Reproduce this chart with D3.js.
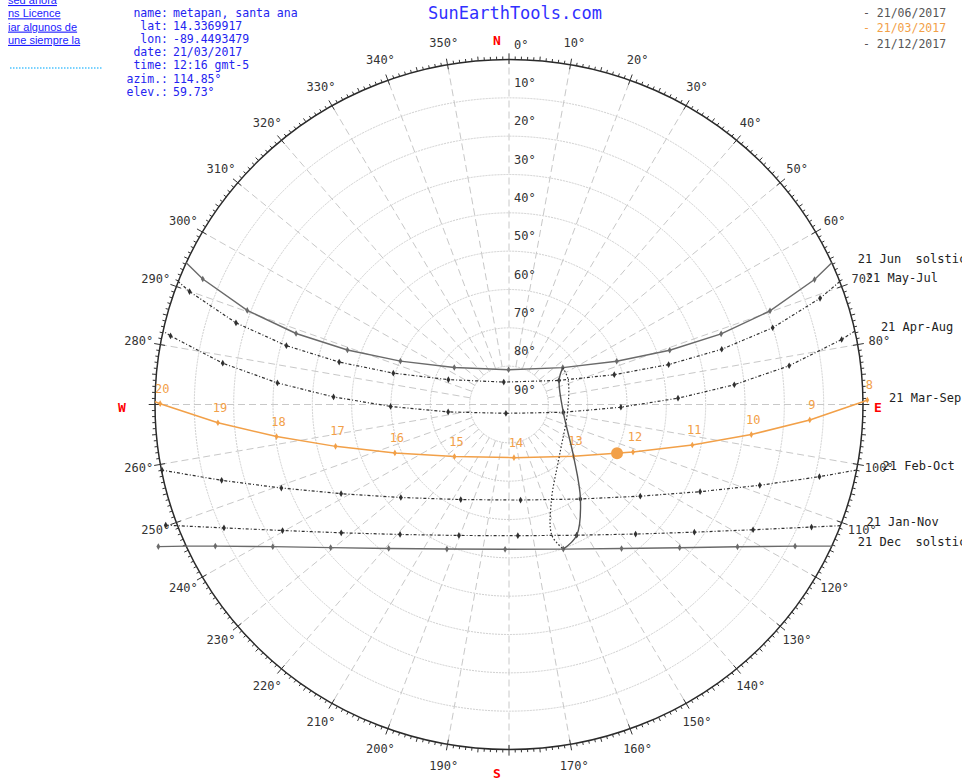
<!DOCTYPE html>
<html><head><meta charset="utf-8">
<script src="https://cdn.jsdelivr.net/npm/d3@7"></script>
<style>
body{margin:0;background:#fff;}
svg{display:block;font-family:"DejaVu Sans Mono",monospace;}
</style></head><body>
<svg id="chart" width="962" height="783"></svg>
<script>
// Sun positions at each clock hour (azimuth°, elevation°) on the 21st of the month
const hours = [8,9,10,11,12,13,14,15,16,17,18,19,20];
const junAz = [67.24,69.79,71.13,70.89,67.61,54.88,359.3,304.75,292.30,289.09,288.89,290.24,292.81];
const junEl = [5.76,19.29,33.00,46.76,60.39,73.28,80.93,73.07,60.17,46.54,32.78,19.07,5.54];
const mayAz = [70.69,73.37,75.08,75.59,73.80,63.76,347.16,292.82,285.55,284.38,285.17,287.06,289.94];
const mayEl = [6.21,20.04,34.03,48.10,62.13,75.80,84.00,73.28,59.47,45.43,31.36,17.39,3.61];
const aprAz = [78.66,81.92,84.86,87.82,91.43,98.39,198.8,262.88,269.05,272.53,275.46,278.42,281.74];
const aprEl = [3.74,18.06,32.49,47.00,61.54,76.04,87.57,74.41,59.89,45.35,30.86,16.43,2.12];
const marAz = [89.26,93.02,97.25,102.77,111.48,129.45,174.81,225.58,246.45,256.09,261.95,266.32,270.13];
const marEl = [-1.10,13.43,27.90,42.22,56.12,68.74,76.07,70.58,58.35,44.57,30.31,15.84,1.32];
const febAz = [99.60,103.42,108.29,115.09,125.63,143.62,173.27,206.32,228.58,241.41,249.37,254.85,259.01];
const febEl = [-5.38,8.86,22.85,36.36,48.94,59.38,64.90,62.33,53.33,41.38,28.15,14.31,0.15];
const janAz = [108.84,112.57,117.77,125.25,136.40,153.21,176.24,200.44,219.25,231.88,240.27,246.05,250.16];
const janEl = [-6.90,6.71,19.87,32.29,43.33,51.80,55.70,53.54,46.22,35.78,23.70,10.71,-2.78];
const decAz = [113.0,116.93,122.58,130.73,142.72,159.89,181.50,202.72,219.16,230.54,238.30,243.68,247.42];
const decEl = [-4.76,8.42,21.06,32.75,42.77,49.83,52.22,49.12,41.57,31.27,19.42,6.70,-6.55];

// Sunrise / sunset on the horizon for each path
const pathLabels = ["21 Jun  solstice","21 May-Jul","21 Apr-Aug","21 Mar-Sep","21 Feb-Oct","21 Jan-Nov","21 Dec  solstice"];
const riseHour = [7.57,7.55,7.74,8.08,8.38,8.50,8.36];
const riseAz   = [65.76,69.12,77.71,89.54,100.95,110.57,114.24];
const setHour  = [20.42,20.27,20.15,20.09,20.01,19.80,19.51];
const setAz    = [294.24,290.88,282.29,270.46,259.05,249.43,245.76];

// 13:00 positions through the year (analemma)
const months = ["Jan","Feb","Mar","Apr","May","Jun","Jul","Aug","Sep","Oct","Nov","Dec"];
const at13Az = [153.21,143.62,129.45,98.39,63.76,54.88,66.09,96.79,136.10,156.79,162.30,159.89];
const at13El = [51.80,59.38,68.74,76.04,75.80,73.28,73.60,75.01,71.50,62.67,54.12,49.83];

// current sun
const sunAz = 114.85, sunEl = 59.73;

const infoKeys = ["name:","lat:","lon:","date:","time:","azim.:","elev.:"];
const infoVals = ["metapan, santa ana","14.3369917","-89.4493479","21/03/2017","12:16 gmt-5","114.85°","59.73°"];
const legendDates = ["- 21/06/2017","- 21/03/2017","- 21/12/2017"];
const leftLines = ["sed ahora","ns Licence","iar algunos de","une siempre la"];

const azTicks = d3.range(0,360,10);
const elRings = d3.range(0,90,10);
const elLabels = d3.range(0,100,10);

const svg = d3.select("#chart");
const cx = 509, cy = 404.5, RX = 354, RY = 345;
const rX = d3.scaleLinear().domain([90,0]).range([0,RX]);
const rY = d3.scaleLinear().domain([90,0]).range([0,RY]);
const rad = d3.scaleLinear().domain([0,360]).range([0,2*Math.PI]);
const px = (az,el) => cx + rX(el)*Math.sin(rad(az));
const py = (az,el) => cy - rY(el)*Math.cos(rad(az));

const orange = "#f2a048", gray = "#6a6a6a", dark = "#303030";

// grid: elevation rings
const g = svg.append("g");
g.selectAll("ellipse.ring").data(elRings.slice(1)).enter().append("ellipse")
  .attr("cx",cx).attr("cy",cy).attr("rx",d=>rX(d)).attr("ry",d=>rY(d))
  .attr("fill","none").attr("stroke","#cfcfcf").attr("stroke-width",1).attr("stroke-dasharray","2,1");
// grid: azimuth spokes
g.selectAll("line.spoke").data(azTicks).enter().append("line")
  .attr("x1",d=> d%90===0 ? cx : px(d,80)).attr("y1",d=> d%90===0 ? cy : py(d,80))
  .attr("x2",d=>px(d,0)).attr("y2",d=>py(d,0))
  .attr("stroke","#c8c8c8").attr("stroke-width",1).attr("stroke-dasharray","7,4");

// horizon with degree ticks
g.append("ellipse").attr("cx",cx).attr("cy",cy).attr("rx",RX).attr("ry",RY)
  .attr("fill","none").attr("stroke","#2a2a2a").attr("stroke-width",1.5);
g.selectAll("line.tick").data(d3.range(0,360,1)).enter().append("line")
  .attr("x1",d=>px(d, d%10===0 ? 1.2 : 0)).attr("y1",d=>py(d, d%10===0 ? 1.2 : 0))
  .attr("x2",d=>px(d, d%10===0 ? -1.6 : (d%5===0 ? -1.1 : -0.8))).attr("y2",d=>py(d, d%10===0 ? -1.6 : (d%5===0 ? -1.1 : -0.8)))
  .attr("stroke","#333").attr("stroke-width",1);

// azimuth labels
const azLabelR = 22;
g.selectAll("text.az").data(azTicks.filter(d=>d%90!==0)).enter().append("text")
  .attr("x",d=>cx+(RX+azLabelR)*Math.sin(rad(d))).attr("y",d=>cy-(RY+azLabelR)*Math.cos(rad(d)))
  .attr("text-anchor","middle").attr("dominant-baseline","central")
  .attr("font-size",12).attr("fill","#333").text(d=>d+"°");
// elevation labels
g.selectAll("text.el").data(elLabels).enter().append("text")
  .attr("x",cx+5).attr("y",d=>cy-rY(d)-11)
  .attr("font-size",12).attr("fill","#333").text(d=>d+"°");
// cardinal points
const card = [["N",cx-12,cy-RY-19],["S",cx-12,cy+RY+24],["E",cx+RX+15,cy+3],["W",cx-RX-33,cy+3]];
g.selectAll("text.card").data(card).enter().append("text")
  .attr("x",d=>d[1]).attr("y",d=>d[2]).attr("text-anchor","middle").attr("dominant-baseline","central")
  .attr("font-size",13).attr("font-weight","bold").attr("fill","#f00").text(d=>d[0]);

// day paths
const pathAz = [junAz,mayAz,aprAz,marAz,febAz,janAz,decAz];
const pathEl = [junEl,mayEl,aprEl,marEl,febEl,janEl,decEl];
const pathColor = [gray,dark,dark,orange,dark,dark,gray];
const pathDash = [null,"3,2,1,2","3,2,1,2",null,"3,2,1,2","3,2,1,2",null];
const line = d3.line().x(d=>px(d.az,d.el)).y(d=>py(d.az,d.el));

pathAz.forEach((azs,i)=>{
  const pts = hours.map((h,j)=>({t:h,az:azs[j],el:pathEl[i][j],hour:true}))
    .filter(p=> p.t>riseHour[i] || p.el>-2);
  const all = pts.concat([{t:riseHour[i],az:riseAz[i],el:0},{t:setHour[i],az:setAz[i],el:0}])
    .sort((a,b)=>a.t-b.t);
  svg.append("path").attr("d",line(all)).attr("fill","none")
    .attr("stroke",pathColor[i]).attr("stroke-width",i===3?1.5:(pathDash[i]?1.2:1.4))
    .attr("stroke-dasharray",pathDash[i]);
  svg.append("g").selectAll("path").data(pts).enter().append("path")
    .attr("d",d3.symbol(d3.symbolDiamond,13)())
    .attr("transform",d=>`translate(${px(d.az,d.el)},${py(d.az,d.el)})`)
    .attr("fill",pathColor[i]);
  if(i===3){
    svg.append("g").selectAll("text").data(pts).enter().append("text")
      .attr("x",d=>px(d.az,d.el)+2).attr("y",d=>py(d.az,d.el)-15)
      .attr("text-anchor","middle").attr("dominant-baseline","central")
      .attr("font-size",12).attr("fill",orange).text(d=>d.t);
  }
  svg.append("text").attr("x",px(riseAz[i],0)+26).attr("y",py(riseAz[i],0)-4)
    .attr("dominant-baseline","central").attr("font-size",12).attr("fill","#222")
    .attr("xml:space","preserve").style("white-space","pre").text(pathLabels[i]);
});

// analemma at 13:00: Dec→Jun solid, Jun→Dec dotted
const a13 = months.map((m,i)=>({m,az:at13Az[i],el:at13El[i]}));
const aLine = d3.line().x(d=>px(d.az,d.el)).y(d=>py(d.az,d.el)).curve(d3.curveCatmullRom);
svg.append("path").attr("d",aLine([a13[11]].concat(a13.slice(0,6)))).attr("fill","none")
  .attr("stroke","#555").attr("stroke-width",1.4);
svg.append("path").attr("d",aLine(a13.slice(5,12))).attr("fill","none")
  .attr("stroke",dark).attr("stroke-width",1.2).attr("stroke-dasharray","1.5,2");

// current sun
svg.append("circle").attr("cx",px(sunAz,sunEl)).attr("cy",py(sunAz,sunEl)).attr("r",6).attr("fill",orange);

// header
svg.append("text").attr("x",515).attr("y",13).attr("text-anchor","middle").attr("dominant-baseline","central")
  .attr("font-size",17).attr("fill","#3030ff").text("SunEarthTools.com");
svg.append("g").selectAll("text").data(infoKeys).enter().append("text")
  .attr("x",168).attr("y",(d,i)=>17+i*13.1).attr("text-anchor","end")
  .attr("font-size",11.5).attr("fill","#2424f0").text(d=>d);
svg.append("g").selectAll("text").data(infoVals).enter().append("text")
  .attr("x",173).attr("y",(d,i)=>17+i*13.1)
  .attr("font-size",11.5).attr("fill","#2424f0").text(d=>d);
const legCol = ["#555",orange,"#555"];
svg.append("g").selectAll("text").data(legendDates).enter().append("text")
  .attr("x",863).attr("y",(d,i)=>17+i*15.3)
  .attr("font-size",11.5).attr("fill",(d,i)=>legCol[i]).text(d=>d);
svg.append("g").selectAll("text").data(leftLines).enter().append("text")
  .attr("x",8).attr("y",(d,i)=>4+i*13.3)
  .attr("font-family","Liberation Sans, Arial, sans-serif").attr("font-size",11)
  .attr("fill","#1a1aff").attr("text-decoration","underline").text(d=>d);
svg.append("line").attr("x1",10).attr("x2",102).attr("y1",68).attr("y2",68)
  .attr("stroke","#4cc3ff").attr("stroke-width",1.5).attr("stroke-dasharray","1.5,1.5");
</script>
</body></html>
